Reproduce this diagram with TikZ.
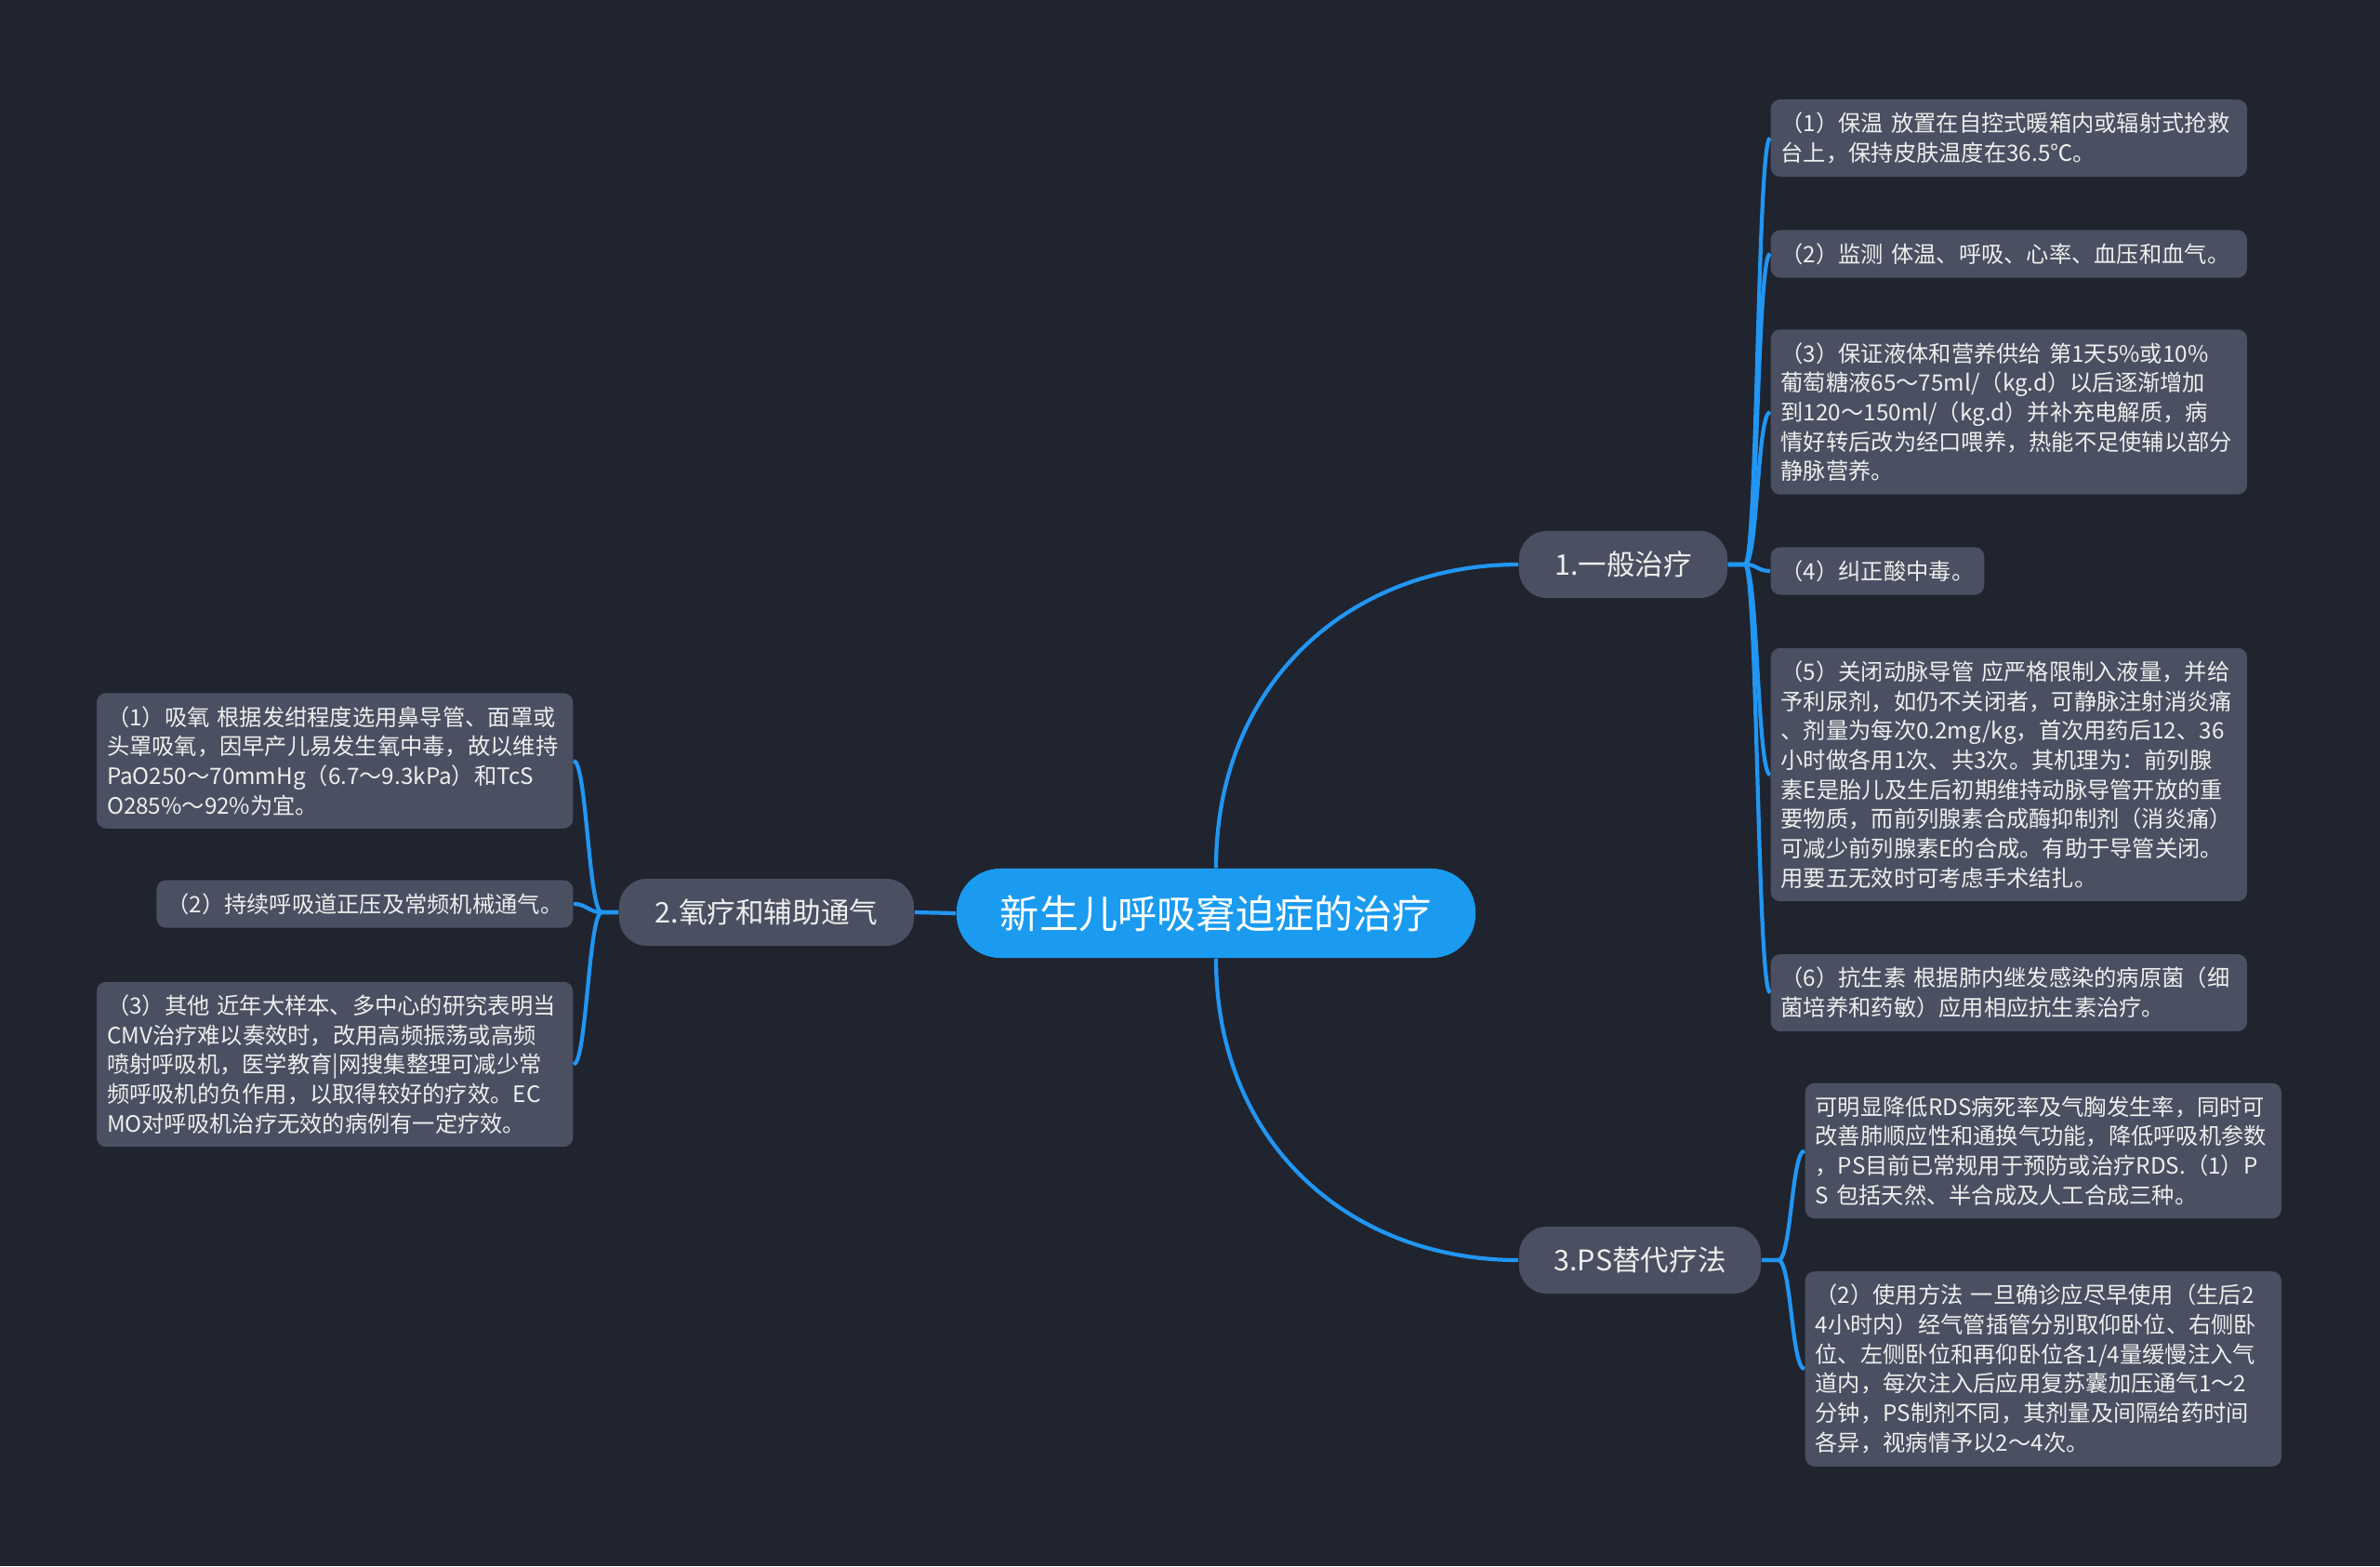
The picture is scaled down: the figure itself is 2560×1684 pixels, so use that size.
\documentclass[tikz,border=0pt]{standalone}
\usepackage{fontspec}
\setmainfont{Noto Sans CJK SC}
\usetikzlibrary{positioning}
\definecolor{bgdark}{HTML}{20242F}
\definecolor{boxgray}{HTML}{4A5061}
\definecolor{linkblue}{HTML}{2196F3}
\definecolor{rootblue}{HTML}{1A9BF0}
\definecolor{textlight}{HTML}{EEEEEE}

\begin{document}
\begin{tikzpicture}[x=0.01cm,y=-0.01cm,
  root/.style={fill=rootblue,text=white,minimum width=5.58cm,minimum height=0.96cm,
    rounded corners=0.47cm,font=\fontsize{12pt}{14pt}\selectfont},
  branch/.style={fill=boxgray,text=textlight,minimum height=0.72cm,inner xsep=0pt,
    rounded corners=0.3cm,font=\fontsize{8.7pt}{10pt}\selectfont},
  leaf/.style={fill=boxgray,text=textlight,rounded corners=0.1cm,inner xsep=0.11cm,
    inner ysep=0.14cm,align=left,font=\fontsize{6.9pt}{9pt}\selectfont},
  leafwide/.style={leaf,text width=4.9cm},
  link/.style={draw=linkblue,line width=1.2pt}]
\fill[bgdark] (0,0) rectangle (2560,1684);
\useasboundingbox (0,0) rectangle (2560,1684);

% centre and the three branches
\node[root] (root) at (1308,982) {新生儿呼吸窘迫症的治疗};
\node[branch,minimum width=2.24cm] (gen) at (1746,607) {1.一般治疗};
\node[branch,minimum width=3.17cm] (oxy) at (824.5,981) {2.氧疗和辅助通气};
\node[branch,minimum width=2.60cm] (ps) at (1764,1355) {3.PS替代疗法};

% general treatment
\node[leafwide,anchor=west] (gen1) at (1904,148.5)
  {（1）保温~放置在自控式暖箱内或辐射式抢救\\台上，保持皮肤温度在36.5℃。};
\node[leafwide,anchor=west] (gen2) at (1904,273)
  {（2）监测~体温、呼吸、心率、血压和血气。};
\node[leafwide,anchor=west] (gen3) at (1904,443)
  {（3）保证液体和营养供给~第1天5\%或10\%\\葡萄糖液65～75ml/（kg.d）以后逐渐增加\\到120～150ml/（kg.d）并补充电解质，病\\情好转后改为经口喂养，热能不足使辅以部分\\静脉营养。};
\node[leaf,anchor=west] (gen4) at (1904,614) {（4）纠正酸中毒。};
\node[leafwide,anchor=west] (gen5) at (1904,833)
  {（5）关闭动脉导管~应严格限制入液量，并给\\予利尿剂，如仍不关闭者，可静脉注射消炎痛\\、剂量为每次0.2mg/kg，首次用药后12、36\\小时做各用1次、共3次。其机理为：前列腺\\素E是胎儿及生后初期维持动脉导管开放的重\\要物质，而前列腺素合成酶抑制剂（消炎痛）\\可减少前列腺素E的合成。有助于导管关闭。\\用要五无效时可考虑手术结扎。};
\node[leafwide,anchor=west] (gen6) at (1904,1067.5)
  {（6）抗生素~根据肺内继发感染的病原菌（细\\菌培养和药敏）应用相应抗生素治疗。};

% PS replacement
\node[leafwide,anchor=west] (ps1) at (1941,1237.5)
  {可明显降低RDS病死率及气胸发生率，同时可\\改善肺顺应性和通换气功能，降低呼吸机参数\\，PS目前已常规用于预防或治疗RDS.（1）P\\S~包括天然、半合成及人工合成三种。};
\node[leafwide,anchor=west] (ps2) at (1941,1472)
  {（2）使用方法~一旦确诊应尽早使用（生后2\\4小时内）经气管插管分别取仰卧位、右侧卧\\位、左侧卧位和再仰卧位各1/4量缓慢注入气\\道内，每次注入后应用复苏囊加压通气1～2\\分钟，PS制剂不同，其剂量及间隔给药时间\\各异，视病情予以2～4次。};

% oxygen and ventilation, hung on the left
\node[leafwide,anchor=east] (oxy1) at (617,818)
  {（1）吸氧~根据发绀程度选用鼻导管、面罩或\\头罩吸氧，因早产儿易发生氧中毒，故以维持\\PaO250～70mmHg（6.7～9.3kPa）和TcS\\O285\%～92\%为宜。};
\node[leaf,anchor=east] (oxy2) at (617,972) {（2）持续呼吸道正压及常频机械通气。};
\node[leafwide,anchor=east] (oxy3) at (617,1144.5)
  {（3）其他~近年大样本、多中心的研究表明当\\CMV治疗难以奏效时，改用高频振荡或高频\\喷射呼吸机，医学教育|网搜集整理可减少常\\频呼吸机的负作用，以取得较好的疗效。EC\\MO对呼吸机治疗无效的病例有一定疗效。};

% connectors
\draw[link] (root.north) .. controls +(0,-200) and +(-180,0) .. (gen.west);
\draw[link] (root.south) .. controls +(0,200) and +(-180,0) .. (ps.west);
\draw[link] (root.west) -- (oxy.east);
\foreach \i in {1,...,6}
  \draw[link] (gen.east) -- ++(18,0) .. controls +(14,0) and +(-14,0) .. (gen\i.west);
\foreach \i in {1,2}
  \draw[link] (ps.east) -- ++(18,0) .. controls +(14,0) and +(-14,0) .. (ps\i.west);
\foreach \i in {1,2,3}
  \draw[link] (oxy.west) -- ++(-18,0) .. controls +(-14,0) and +(14,0) .. (oxy\i.east);
\end{tikzpicture}
\end{document}
